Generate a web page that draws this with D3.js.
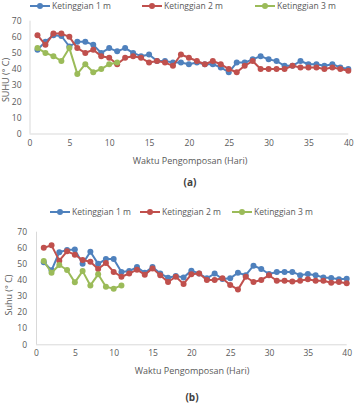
<!DOCTYPE html>
<html><head><meta charset="utf-8">
<script src="https://cdn.jsdelivr.net/npm/d3@7"></script>
<style>
body{margin:0;background:#fff;}
svg{display:block;font-family:"Open Sans","Liberation Sans",sans-serif;}
</style></head>
<body><svg id="c" width="357" height="418"></svg>
<script>
const days = d3.range(1, 41);
const seriesNames = ["Ketinggian 1 m", "Ketinggian 2 m", "Ketinggian 3 m"];
const colors = ["#4f81bd", "#c0504d", "#9bbb59"];
const xTicks = [0, 5, 10, 15, 20, 25, 30, 35, 40];
const yTicks = [0, 10, 20, 30, 40, 50, 60, 70];

const a1 = [52,57,61,60.5,54,57,57,55,50,53,51,53,50,48,49,45,45,44,44,43,44,43,43,41,38,44,44,46,48,46,45,42,42,45,43,43,42,43,41,40];
const a2 = [61,55,62,62,60,53,50,52,48,47,43,47,48,47,44,45,44,42,49,47,45,43,45,43,40,38,42,45,40,40,40,40,42,41,41,41,40,41,40,39];
const a3 = [53,50,48,45,53,37,43,38,40,43,44];

const b1 = [51,46,57.3,58.6,59,50,57.5,50,53,53,45,45.5,48,44.5,48,44,41.4,42.4,41.6,45.8,44,41,44,40.6,41,44.5,43,48.9,46.8,43.7,45,45,45,43,43.7,42.9,41.6,41.2,40.4,40.8];
const b2 = [60,61.5,52,57.8,55.7,52.4,51.3,46.8,50.5,45,42,44,46.4,43.3,47.2,42.9,38.7,42,37.5,43.5,44,40,40,41,36.9,34,42,38.7,40,42.9,39.5,39.5,39,39.5,40.4,39.5,39.5,38.3,38.7,37.9];
const b3 = [51.8,44.5,49.3,46.2,38.5,45.5,36.6,43.5,35.8,34.6,36.6];

const svg = d3.select("#c");

function chart(cfg) {
  const g = svg.append("g");
  const x = d3.scaleLinear().domain([0, 40]).range([cfg.x0, cfg.x1]);
  const y = d3.scaleLinear().domain([0, 70]).range([cfg.y0, cfg.y1]);

  const xa = g.append("g").attr("transform", `translate(0,${cfg.y0})`)
    .call(d3.axisBottom(x).tickValues(xTicks).tickSize(0).tickPadding(6));
  const ya = g.append("g").attr("transform", `translate(${cfg.x0},0)`)
    .call(d3.axisLeft(y).tickValues(yTicks).tickSize(0).tickPadding(cfg.yPad));
  [xa, ya].forEach(a => {
    a.select(".domain").attr("stroke", "#d9d9d9").attr("stroke-width", 1);
    a.selectAll("text").attr("fill", "#595959").attr("font-size", 8.5)
      .attr("font-family", "'Open Sans','Liberation Sans',sans-serif");
  });
  ya.select(".domain").attr("d", `M0.5,${cfg.y0}V${cfg.y1}`);
  xa.select(".domain").attr("d", `M${cfg.x0},0.5H${cfg.x1}`);

  const line = d3.line().x((d, i) => x(days[i])).y(d => y(d));
  cfg.data.forEach((s, k) => {
    g.append("path").datum(s).attr("d", line).attr("fill", "none")
      .attr("stroke", colors[k]).attr("stroke-width", 2).attr("stroke-linejoin", "round");
    g.selectAll(null).data(s).enter().append("circle")
      .attr("cx", (d, i) => x(days[i])).attr("cy", d => y(d)).attr("r", 3)
      .attr("fill", colors[k]);
  });

  cfg.legend.forEach((lx, k) => {
    const lg = g.append("g").attr("transform", `translate(${lx},${cfg.ly})`);
    lg.append("line").attr("x1", 0).attr("x2", 20).attr("y1", 0).attr("y2", 0)
      .attr("stroke", colors[k]).attr("stroke-width", 2);
    lg.append("circle").attr("cx", 10).attr("cy", 0).attr("r", 3).attr("fill", colors[k]);
    lg.append("text").attr("x", 22).attr("y", 3).attr("font-size", 8.5).attr("fill", "#595959")
      .text(seriesNames[k]);
  });

  g.append("text").attr("x", cfg.xtX).attr("y", cfg.xtY).attr("text-anchor", "middle")
    .attr("font-size", 9).attr("fill", "#595959").text("Waktu Pengomposan (Hari)");
  g.append("text").attr("transform", `translate(${cfg.ytX},${cfg.ytY}) rotate(-90)`)
    .attr("text-anchor", "middle").attr("font-size", 9).attr("fill", "#595959").text(cfg.yTitle);
  g.append("text").attr("x", cfg.xtX).attr("y", cfg.capY).attr("text-anchor", "middle")
    .attr("font-size", 10).attr("font-weight", "bold").attr("fill", "#404040").text(cfg.caption);
}

chart({x0: 29.5, x1: 348.3, y0: 133.5, y1: 20.7, yPad: 8, data: [a1, a2, a3],
  legend: [30, 142, 255], ly: 6, xtX: 190, xtY: 164, ytX: 9, ytY: 80,
  yTitle: "SUHU (° C)", caption: "(a)", capY: 186});

chart({x0: 36, x1: 346.7, y0: 344.3, y1: 231.7, yPad: 9, data: [b1, b2, b3],
  legend: [50, 140, 232], ly: 212, xtX: 192, xtY: 374, ytX: 12, ytY: 295,
  yTitle: "Suhu (° C)", caption: "(b)", capY: 401});
</script></body></html>
